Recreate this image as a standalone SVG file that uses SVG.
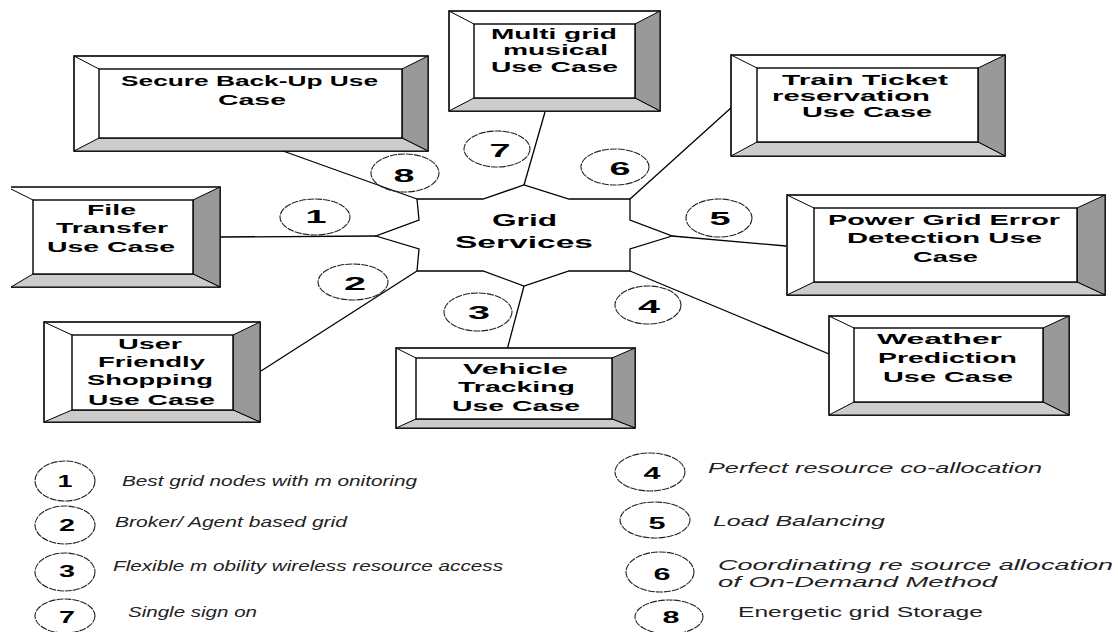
<svg xmlns="http://www.w3.org/2000/svg" width="1118" height="632" viewBox="0 0 1118 632">
<style>
.o{fill:#fff;stroke:#000;stroke-width:1.6}
.i{fill:#fff;stroke:#000;stroke-width:1.4}
.r{fill:#999;stroke:#000;stroke-width:1}
.b{fill:#ccc;stroke:#000;stroke-width:1}
.d{stroke:#000;stroke-width:1;fill:none}
.t{font-family:"Liberation Sans",Arial,sans-serif;font-weight:bold;font-size:15.5px;fill:#000}
.g{font-family:"Liberation Sans",Arial,sans-serif;font-weight:bold;font-size:17px;fill:#000}
.n{font-family:"Liberation Sans",Arial,sans-serif;font-weight:bold;font-size:18px;fill:#000;text-anchor:middle}
.ln{font-family:"Liberation Sans",Arial,sans-serif;font-weight:bold;font-size:16px;fill:#000;text-anchor:middle}
.l{font-family:"Liberation Sans",Arial,sans-serif;font-style:italic;font-size:14px;fill:#222}
.lu{font-family:"Liberation Sans",Arial,sans-serif;font-size:14px;fill:#222}
.c{fill:none;stroke:#222;stroke-width:1.1;stroke-dasharray:7 1}
.k{stroke:#000;stroke-width:1.3;fill:none}
</style>

<g id="connectors">
<line class="k" x1="283" y1="151" x2="417" y2="199"/>
<line class="k" x1="220" y1="237" x2="376" y2="236"/>
<line class="k" x1="417" y1="271" x2="261" y2="371"/>
<line class="k" x1="545" y1="112" x2="524" y2="185"/>
<line class="k" x1="630" y1="199" x2="732" y2="107"/>
<line class="k" x1="672" y1="236" x2="786" y2="246"/>
<line class="k" x1="630" y1="271" x2="853" y2="364"/>
<line class="k" x1="524" y1="286" x2="507" y2="350"/>
</g>

<g id="secure-backup">
<rect class="o" x="74" y="56" width="354" height="95"/>
<polygon class="r" points="428,56 428,151 402,138 402,69"/>
<polygon class="b" points="74,151 428,151 402,138 99,138"/>
<line class="d" x1="74" y1="56" x2="99" y2="69"/>
<rect class="i" x="99" y="69" width="303" height="69"/>
<text class="t" x="121" y="86" textLength="257" lengthAdjust="spacingAndGlyphs">Secure Back-Up Use</text>
<text class="t" x="218" y="105" textLength="68" lengthAdjust="spacingAndGlyphs">Case</text>
</g>

<g id="file-transfer">
<path d="M11,187 H220 V287 H11" fill="#fff" stroke="#000" stroke-width="1.6"/>
<polygon class="r" points="220,187 220,287 193,274 193,200"/>
<polygon class="b" points="11,287 220,287 193,274 33,274"/>
<line class="d" x1="11" y1="189" x2="33" y2="200"/>
<rect class="i" x="33" y="200" width="160" height="74"/>
<text class="t" x="87" y="215" textLength="49" lengthAdjust="spacingAndGlyphs">File</text>
<text class="t" x="56" y="233" textLength="112" lengthAdjust="spacingAndGlyphs">Transfer</text>
<text class="t" x="47" y="252" textLength="128" lengthAdjust="spacingAndGlyphs">Use Case</text>
</g>

<g id="multi-grid">
<rect class="o" x="449" y="11" width="211" height="100"/>
<polygon class="r" points="660,11 660,111 635,98 635,24"/>
<polygon class="b" points="449,111 660,111 635,98 474,98"/>
<line class="d" x1="449" y1="11" x2="474" y2="24"/>
<rect class="i" x="474" y="24" width="161" height="74"/>
<text class="t" x="491" y="39" textLength="126" lengthAdjust="spacingAndGlyphs">Multi grid</text>
<text class="t" x="503" y="55" textLength="105" lengthAdjust="spacingAndGlyphs">musical</text>
<text class="t" x="491" y="72" textLength="127" lengthAdjust="spacingAndGlyphs">Use Case</text>
</g>

<g id="train-ticket">
<rect class="o" x="731" y="55" width="274" height="101"/>
<polygon class="r" points="1005,55 1005,156 978,142 978,68"/>
<polygon class="b" points="731,156 1005,156 978,142 757,142"/>
<line class="d" x1="731" y1="55" x2="757" y2="68"/>
<rect class="i" x="757" y="68" width="221" height="74"/>
<text class="t" x="782" y="85" textLength="166" lengthAdjust="spacingAndGlyphs">Train Ticket</text>
<text class="t" x="772" y="101" textLength="158" lengthAdjust="spacingAndGlyphs">reservation</text>
<text class="t" x="802" y="117" textLength="130" lengthAdjust="spacingAndGlyphs">Use Case</text>
</g>

<g id="power-grid">
<rect class="o" x="787" y="195" width="318" height="100"/>
<polygon class="r" points="1105,195 1105,295 1077,282 1077,208"/>
<polygon class="b" points="787,295 1105,295 1077,282 814,282"/>
<line class="d" x1="787" y1="195" x2="814" y2="208"/>
<rect class="i" x="814" y="208" width="263" height="74"/>
<text class="t" x="828" y="225" textLength="232" lengthAdjust="spacingAndGlyphs">Power Grid Error</text>
<text class="t" x="847" y="243" textLength="195" lengthAdjust="spacingAndGlyphs">Detection Use</text>
<text class="t" x="913" y="262" textLength="65" lengthAdjust="spacingAndGlyphs">Case</text>
</g>

<g id="user-friendly">
<rect class="o" x="44" y="322" width="216" height="100"/>
<polygon class="r" points="260,322 260,422 233,410 233,335"/>
<polygon class="b" points="44,422 260,422 233,410 72,410"/>
<line class="d" x1="44" y1="322" x2="72" y2="335"/>
<rect class="i" x="72" y="335" width="161" height="75"/>
<text class="t" x="118" y="349" textLength="64" lengthAdjust="spacingAndGlyphs">User</text>
<text class="t" x="98" y="367" textLength="107" lengthAdjust="spacingAndGlyphs">Friendly</text>
<text class="t" x="87" y="385" textLength="126" lengthAdjust="spacingAndGlyphs">Shopping</text>
<text class="t" x="88" y="405" textLength="127" lengthAdjust="spacingAndGlyphs">Use Case</text>
</g>

<g id="vehicle-tracking">
<rect class="o" x="396" y="348" width="239" height="80"/>
<polygon class="r" points="635,348 635,428 612,419 612,358"/>
<polygon class="b" points="396,428 635,428 612,419 416,419"/>
<line class="d" x1="396" y1="348" x2="416" y2="358"/>
<rect class="i" x="416" y="358" width="196" height="61"/>
<text class="t" x="463" y="374" textLength="105" lengthAdjust="spacingAndGlyphs">Vehicle</text>
<text class="t" x="458" y="392" textLength="117" lengthAdjust="spacingAndGlyphs">Tracking</text>
<text class="t" x="452" y="411" textLength="128" lengthAdjust="spacingAndGlyphs">Use Case</text>
</g>

<g id="weather">
<rect class="o" x="829" y="316" width="240" height="99"/>
<polygon class="r" points="1069,316 1069,415 1043,402 1043,328"/>
<polygon class="b" points="829,415 1069,415 1043,402 854,402"/>
<line class="d" x1="829" y1="316" x2="854" y2="328"/>
<rect class="i" x="854" y="328" width="189" height="74"/>
<text class="t" x="877" y="344" textLength="125" lengthAdjust="spacingAndGlyphs">Weather</text>
<text class="t" x="878" y="363" textLength="139" lengthAdjust="spacingAndGlyphs">Prediction</text>
<text class="t" x="883" y="382" textLength="130" lengthAdjust="spacingAndGlyphs">Use Case</text>
</g>

<g id="grid-services">
<polygon fill="#fff" stroke="#000" stroke-width="1.3" points="417,199 483,199 524,185 569,199 630,199 630,220 672,236 630,249 630,271 569,271 524,286 483,271 417,271 419,249 376,236 419,220"/>
<text class="g" x="492" y="226" textLength="65" lengthAdjust="spacingAndGlyphs">Grid</text>
<text class="g" x="455" y="248" textLength="138" lengthAdjust="spacingAndGlyphs">Services</text>
</g>

<g id="badges">
<ellipse class="c" cx="405" cy="173" rx="34" ry="19"/>
<text class="n" x="404" y="182" textLength="21" lengthAdjust="spacingAndGlyphs">8</text>
<ellipse class="c" cx="497" cy="149" rx="33" ry="18"/>
<text class="n" x="500" y="157" textLength="21" lengthAdjust="spacingAndGlyphs">7</text>
<ellipse class="c" cx="615" cy="167" rx="34" ry="18"/>
<text class="n" x="620" y="175" textLength="21" lengthAdjust="spacingAndGlyphs">6</text>
<ellipse class="c" cx="315" cy="217" rx="35" ry="18"/>
<text class="n" x="316" y="223" textLength="21" lengthAdjust="spacingAndGlyphs">1</text>
<ellipse class="c" cx="353" cy="282" rx="35" ry="18"/>
<text class="n" x="355" y="290" textLength="22" lengthAdjust="spacingAndGlyphs">2</text>
<ellipse class="c" cx="719" cy="218" rx="33" ry="19"/>
<text class="n" x="720" y="225" textLength="21" lengthAdjust="spacingAndGlyphs">5</text>
<ellipse class="c" cx="478" cy="312" rx="34" ry="19"/>
<text class="n" x="479" y="319" textLength="22" lengthAdjust="spacingAndGlyphs">3</text>
<ellipse class="c" cx="648" cy="305" rx="33" ry="19"/>
<text class="n" x="649" y="313" textLength="22" lengthAdjust="spacingAndGlyphs">4</text>
</g>

<g id="legend">
<ellipse class="c" cx="65" cy="481" rx="30" ry="20"/>
<text class="ln" x="65" y="487" textLength="15" lengthAdjust="spacingAndGlyphs">1</text>
<text class="l" x="122" y="486" textLength="295" lengthAdjust="spacingAndGlyphs">Best grid nodes with m onitoring</text>
<ellipse class="c" cx="65" cy="525" rx="30" ry="19"/>
<text class="ln" x="67" y="531" textLength="16" lengthAdjust="spacingAndGlyphs">2</text>
<text class="l" x="115" y="527" textLength="232" lengthAdjust="spacingAndGlyphs">Broker/ Agent based grid</text>
<ellipse class="c" cx="65" cy="572" rx="30" ry="19"/>
<text class="ln" x="67" y="577" textLength="16" lengthAdjust="spacingAndGlyphs">3</text>
<text class="l" x="113" y="571" textLength="390" lengthAdjust="spacingAndGlyphs">Flexible m obility wireless resource access</text>
<ellipse class="c" cx="65" cy="616" rx="30" ry="17"/>
<text class="ln" x="67" y="623" textLength="16" lengthAdjust="spacingAndGlyphs">7</text>
<text class="l" x="128" y="617" textLength="129" lengthAdjust="spacingAndGlyphs">Single sign on</text>

<ellipse class="c" cx="650" cy="472" rx="35" ry="19"/>
<text class="ln" x="652" y="479" textLength="17" lengthAdjust="spacingAndGlyphs">4</text>
<text class="l" x="708" y="473" textLength="334" lengthAdjust="spacingAndGlyphs">Perfect resource co-allocation</text>
<ellipse class="c" cx="655" cy="520" rx="35" ry="18"/>
<text class="ln" x="657" y="529" textLength="17" lengthAdjust="spacingAndGlyphs">5</text>
<text class="l" x="713" y="526" textLength="172" lengthAdjust="spacingAndGlyphs">Load Balancing</text>
<ellipse class="c" cx="660" cy="572" rx="34" ry="20"/>
<text class="ln" x="662" y="580" textLength="17" lengthAdjust="spacingAndGlyphs">6</text>
<text class="l" x="718" y="570" textLength="395" lengthAdjust="spacingAndGlyphs">Coordinating re source allocation</text>
<text class="l" x="718" y="587" textLength="279" lengthAdjust="spacingAndGlyphs">of On-Demand Method</text>
<ellipse class="c" cx="669" cy="617" rx="34" ry="17"/>
<text class="ln" x="671" y="623" textLength="17" lengthAdjust="spacingAndGlyphs">8</text>
<text class="lu" x="738" y="617" textLength="245" lengthAdjust="spacingAndGlyphs">Energetic grid Storage</text>
</g>
</svg>
